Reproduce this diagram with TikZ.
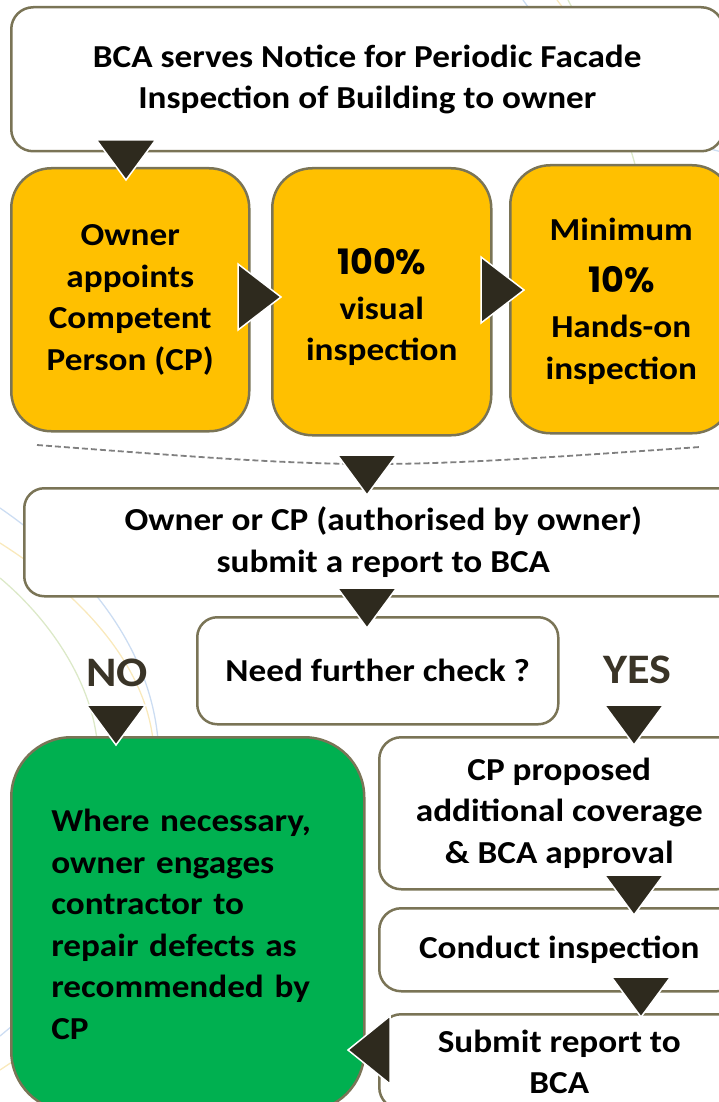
\documentclass[tikz,border=0pt]{standalone}
\usepackage{fontspec}
\setmainfont{Carlito}[FakeStretch=1.1]
\newfontfamily\pctfont{Poppins}

\definecolor{boxline}{HTML}{7A7456}
\definecolor{boxyellow}{HTML}{FFC000}
\definecolor{boxgreen}{HTML}{00B050}
\definecolor{tridark}{HTML}{2E2A1E}
\definecolor{labeldark}{HTML}{3A3427}
\definecolor{arcblue}{HTML}{8EB4E3}
\definecolor{arcyellow}{HTML}{F2CF6A}
\definecolor{arcgreen}{HTML}{B2CF86}

\begin{document}
\begin{tikzpicture}[x=1pt, y=-1pt,
    box/.style={draw=boxline, line width=2.5pt, fill=white, rounded corners=22pt,
        anchor=north west, inner sep=0pt, align=center,
        font=\bfseries\fontsize{32}{41.5}\selectfont},
    ybox/.style={box, fill=boxyellow, rounded corners=40pt},
    gbox/.style={box, fill=boxgreen, rounded corners=60pt, align=left,
        inner xsep=40pt, text width=273pt},
    answer/.style={font=\bfseries\fontsize{42}{50}\selectfont, text=labeldark},
    tri/.style={fill=tridark, draw=white, line width=1.5pt},
    bgarc/.style={line width=1.3pt, opacity=0.45}]
    \useasboundingbox (0,0) rectangle (719,1102);

    % Faint arcs in the background
    \draw[bgarc, arcblue] (523,0) .. controls (580,80) and (650,135) .. (722,152);
    \draw[bgarc, arcyellow] (557,0) .. controls (610,70) and (660,125) .. (722,145);
    \draw[bgarc, arcgreen] (568,0) .. controls (600,60) and (620,110) .. (636,168);
    \draw[bgarc, arcblue] (0,508) .. controls (90,570) and (150,650) .. (158,740);
    \draw[bgarc, arcyellow] (0,543) .. controls (90,600) and (145,670) .. (153,740);
    \draw[bgarc, arcgreen] (0,578) .. controls (50,620) and (90,680) .. (97,740);
    \draw[bgarc, arcblue] (0,1036) -- (12,1026);
    \draw[bgarc, arcyellow] (0,1070) -- (12,1062);

    % Notice and the three inspection steps
    \node[box, minimum width=712, minimum height=144] (notice) at (10,6)
        {BCA serves Notice for Periodic Facade\\Inspection of Building to owner};
    \node[ybox, minimum width=238, minimum height=263] (appoint) at (10,167)
        {Owner\\appoints\\Competent\\Person (CP)};
    \node[ybox, minimum width=219, minimum height=267] (visual) at (271,167)
        {\rule{0pt}{37pt}{\pctfont\fontsize{35}{41.5}\selectfont 100\%}\\[3pt]visual\\inspection};
    \node[ybox, minimum width=222, minimum height=268] (handson) at (509,164)
        {\rule{0pt}{27pt}Minimum\\[10pt]{\pctfont\fontsize{35}{41.5}\selectfont 10\%}\\[4pt]Hands-on\\inspection};

    % Separator
    \draw[gray, line width=1.8pt, dash pattern=on 6pt off 3pt]
        (37,445) .. controls (367,470) .. (700,447);

    % Report and decision
    \node[box, minimum width=718, minimum height=108, rounded corners=20pt] (report) at (23,487)
        {Owner or CP (authorised by owner)\\submit a report to BCA};
    \node[box, minimum width=361, minimum height=107, rounded corners=20pt] (check) at (196,616)
        {Need further check ?};
    \node[answer] (no) at (117,673) {NO};
    \node[answer] (yes) at (637,670) {YES};

    % NO branch
    \node[gbox, minimum width=353, minimum height=374] (repair) at (10,736)
        {Where necessary,\\owner engages\\contractor to\\repair defects as\\recommended by\\CP};

    % YES branch
    \node[box, minimum width=360, minimum height=152] (coverage) at (378,736)
        {CP proposed\\additional coverage\\\& BCA approval};
    \node[box, minimum width=360, minimum height=83] (conduct) at (378,907)
        {Conduct inspection};
    \node[box, minimum width=360, minimum height=95] (submit) at (378,1013)
        {Submit report to\\BCA};

    % Triangle arrows
    \foreach \x/\y in {126/180, 367/495, 367/628, 116/745, 634/745, 634/915, 641/1017}
        \filldraw[tri] (\x,\y) -- ++(-29.5,-40) -- ++(59,0) -- cycle;
    \foreach \x/\y in {281/297, 524/290}
        \filldraw[tri] (\x,\y) -- ++(-43,-33) -- ++(0,66) -- cycle;
    \filldraw[tri] (348,1050) -- ++(42,-34) -- ++(0,68) -- cycle;
\end{tikzpicture}
\end{document}
